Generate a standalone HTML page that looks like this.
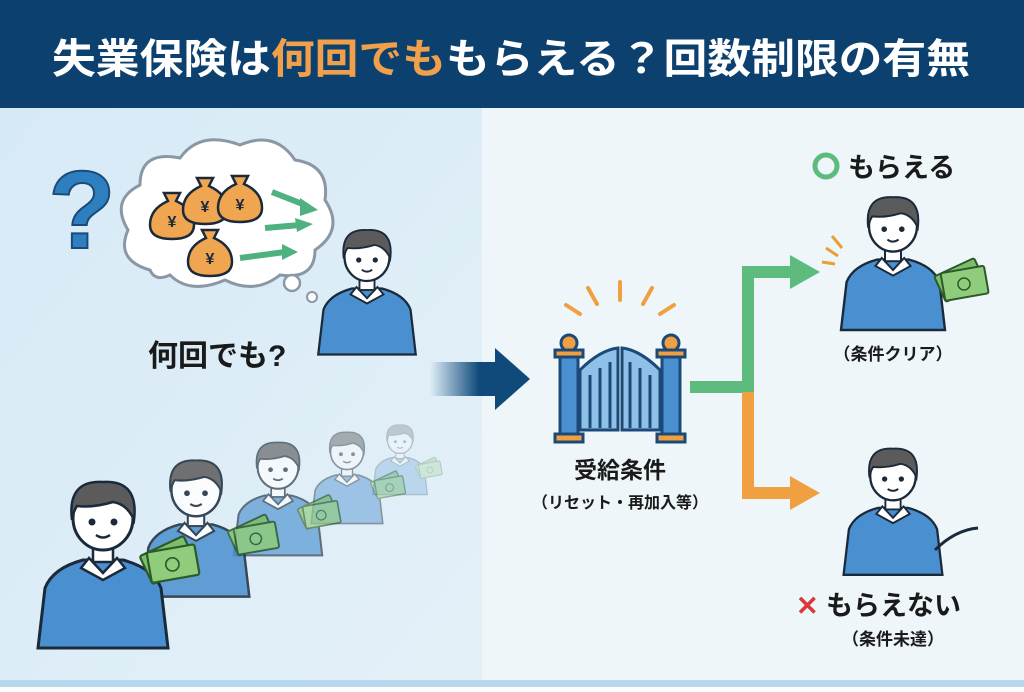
<!DOCTYPE html>
<html><head><meta charset="utf-8"><style>
html,body{margin:0;padding:0}
body{width:1024px;height:687px;overflow:hidden;font-family:"Liberation Sans","Noto Sans CJK JP",sans-serif}
</style></head><body>
<svg width="1024" height="687" viewBox="0 0 1024 687" xmlns="http://www.w3.org/2000/svg" font-family="Liberation Sans, Noto Sans CJK JP, sans-serif">
<defs>
<linearGradient id="lp" x1="0" y1="0" x2="1" y2="1"><stop offset="0" stop-color="#d6eaf6"/><stop offset="1" stop-color="#e4f0f8"/></linearGradient>
<linearGradient id="ar" x1="0" y1="0" x2="1" y2="0"><stop offset="0" stop-color="#0f4a7a" stop-opacity="0"/><stop offset="0.7" stop-color="#0f4a7a"/></linearGradient>
<g id="p">
<path d="M-65 130 L-58 70 Q-50 50 -20 42 L20 42 Q50 50 58 70 L65 130 Z" fill="#4a90d0" stroke="#1a2a3a" stroke-width="3"/>
<path d="M-14 40 L0 55 L14 40 L22 50 L0 62 L-22 50 Z" fill="#fff" stroke="#1a2a3a" stroke-width="2.5"/>
<rect x="-10" y="22" width="20" height="22" fill="#fff" stroke="#1a2a3a" stroke-width="2.5"/>
<ellipse cx="0" cy="0" rx="30" ry="32" fill="#fff" stroke="#1a2a3a" stroke-width="3"/>
<path d="M-31 2 Q-36 -38 0 -36 Q36 -38 31 2 Q24 -14 10 -16 Q-10 -10 -26 -12 Q-30 -6 -31 2Z" fill="#5b5b5b" stroke="#1a2a3a" stroke-width="2.5"/>
<circle cx="-11" cy="4" r="3.5" fill="#1a2a3a"/><circle cx="11" cy="4" r="3.5" fill="#1a2a3a"/>
<path d="M-7 17 Q0 22 7 17" fill="none" stroke="#1a2a3a" stroke-width="2.5"/>
</g>
<g id="m">
<rect x="-22" y="-14" width="44" height="28" rx="2" fill="#7cbf6a" stroke="#2c5a2a" stroke-width="2" transform="rotate(-25)"/>
<rect x="-18" y="-10" width="44" height="28" rx="2" fill="#8fcc7c" stroke="#2c5a2a" stroke-width="2" transform="rotate(-10)"/>
<circle cx="4" cy="4" r="6" fill="none" stroke="#2c5a2a" stroke-width="1.5"/>
</g>
<g id="bag">
<path d="M-8 -22 L8 -22 L4 -14 Q22 -6 22 10 Q22 24 0 24 Q-22 24 -22 10 Q-22 -6 -4 -14 Z" fill="#f0a550" stroke="#1a2a3a" stroke-width="2.5"/>
<text x="0" y="12" font-size="16" font-weight="bold" text-anchor="middle" fill="#1a2a3a">¥</text>
</g>
</defs>
<rect width="1024" height="687" fill="#eef6fa"/>
<rect x="0" y="108" width="482" height="579" fill="url(#lp)"/>
<rect x="0" y="680" width="1024" height="7" fill="#b8d8ee"/>
<rect x="0" y="0" width="1024" height="108" fill="#0c406e"/>
<text x="511" y="73" font-size="41" font-weight="bold" text-anchor="middle" fill="#fff" textLength="918" lengthAdjust="spacingAndGlyphs">失業保険は<tspan fill="#f0a04b">何回でも</tspan>もらえる？回数制限の有無</text>

<text x="82" y="248" font-size="110" font-weight="bold" text-anchor="middle" fill="#2e7fc0" stroke="#1c4a78" stroke-width="2">?</text>
<path d="M150 270 Q115 260 128 230 Q110 200 140 185 Q140 150 180 158 Q200 130 240 145 Q275 130 295 160 Q330 165 325 200 Q345 230 315 250 Q315 280 280 275 Q255 295 225 280 Q190 295 170 275 Q155 282 150 270Z" fill="#fff" stroke="#8a98a6" stroke-width="3"/>
<circle cx="292" cy="283" r="8" fill="#fff" stroke="#8a98a6" stroke-width="2.5"/>
<circle cx="312" cy="297" r="5" fill="#fff" stroke="#8a98a6" stroke-width="2"/>
<use href="#bag" x="172" y="215"/><use href="#bag" x="205" y="200"/><use href="#bag" x="240" y="198"/><use href="#bag" x="210" y="252"/>
<g stroke="#4fb080" stroke-width="6" fill="#4fb080">
<path d="M272 192 L305 205" /><path d="M265 228 L300 225"/><path d="M240 258 L285 252"/>
</g>
<path d="M300 198 L318 210 L300 216Z M295 218 L313 224 L297 232Z M282 244 L298 252 L282 260Z" fill="#4fb080"/>
<use href="#p" transform="translate(367,257) scale(0.75)"/>
<text x="148" y="366" font-size="30" font-weight="bold" fill="#1a1a1a">何回でも?</text>

<rect x="430" y="362" width="70" height="34" fill="url(#ar)"/>
<path d="M495 348 L530 379 L495 410Z" fill="#0f4a7a"/>

<g stroke="#f0a040" stroke-width="4" stroke-linecap="round">
<path d="M620 282 L620 300"/><path d="M588 288 L597 304"/><path d="M652 288 L643 304"/><path d="M566 305 L580 314"/><path d="M674 305 L660 314"/>
</g>
<g stroke="#1c4a78" stroke-width="3">
<rect x="560" y="355" width="18" height="80" fill="#4a90d0"/><rect x="662" y="355" width="18" height="80" fill="#4a90d0"/>
<circle cx="569" cy="343" r="8" fill="#f0a040"/><circle cx="671" cy="343" r="8" fill="#f0a040"/>
<rect x="555" y="350" width="28" height="7" fill="#f0a040"/><rect x="657" y="350" width="28" height="7" fill="#f0a040"/>
<rect x="555" y="434" width="28" height="8" fill="#f0a040"/><rect x="657" y="434" width="28" height="8" fill="#f0a040"/>
<path d="M580 370 Q600 350 618 348 L618 430 L580 430Z" fill="#8fc0e8"/>
<path d="M660 370 Q640 350 622 348 L622 430 L660 430Z" fill="#8fc0e8"/>
<path d="M590 375 V428 M600 368 V428 M610 362 V428 M630 362 V428 M640 368 V428 M650 375 V428" fill="none"/>
</g>
<text x="620" y="478" font-size="23" font-weight="bold" text-anchor="middle" fill="#1a1a1a">受給条件</text>
<text x="620" y="508" font-size="16" font-weight="bold" text-anchor="middle" fill="#1a1a1a">（リセット・再加入等）</text>

<path d="M690 387 L748 387 L748 272 L795 272" fill="none" stroke="#5dbb7e" stroke-width="12"/>
<path d="M790 255 L820 272 L790 289Z" fill="#5dbb7e"/>
<path d="M748 392 L748 493 L795 493" fill="none" stroke="#f0a040" stroke-width="12"/>
<path d="M790 476 L820 493 L790 510Z" fill="#f0a040"/>

<circle cx="826" cy="166" r="11" fill="none" stroke="#5dbb7e" stroke-width="5"/>
<text x="848" y="177" font-size="27" font-weight="bold" fill="#1a1a1a">もらえる</text>
<use href="#p" transform="translate(893,226) scale(0.8)"/>
<use href="#m" transform="translate(960,280)"/>
<g stroke="#e8a030" stroke-width="3"><path d="M826 248 L838 256"/><path d="M832 236 L842 248"/><path d="M822 262 L835 264"/></g>
<text x="893" y="360" font-size="17" font-weight="bold" text-anchor="middle" fill="#1a1a1a">（条件クリア）</text>

<use href="#p" transform="translate(893,476) scale(0.76)"/>
<path d="M935 550 Q955 530 978 528" fill="none" stroke="#1a2a3a" stroke-width="3"/>
<text x="796" y="615" font-size="27" font-weight="bold" fill="#d83a3a">✕</text>
<text x="826" y="615" font-size="27" font-weight="bold" fill="#1a1a1a">もらえない</text>
<text x="893" y="645" font-size="17" font-weight="bold" text-anchor="middle" fill="#1a1a1a">（条件未達）</text>

<g opacity="0.25"><use href="#p" transform="translate(400,440) scale(0.42)"/><use href="#m" transform="translate(428,468) scale(0.5)"/></g>
<g opacity="0.45"><use href="#p" transform="translate(347,452) scale(0.55)"/><use href="#m" transform="translate(387,485) scale(0.65)"/></g>
<g opacity="0.65"><use href="#p" transform="translate(278,467) scale(0.68)"/><use href="#m" transform="translate(318,512) scale(0.8)"/></g>
<g opacity="0.85"><use href="#p" transform="translate(196,490) scale(0.82)"/><use href="#m" transform="translate(252,535) scale(0.95)"/></g>
<use href="#p" transform="translate(103,518)"/>
<use href="#m" transform="translate(168,560) scale(1.1)"/>
</svg>
</body></html>
